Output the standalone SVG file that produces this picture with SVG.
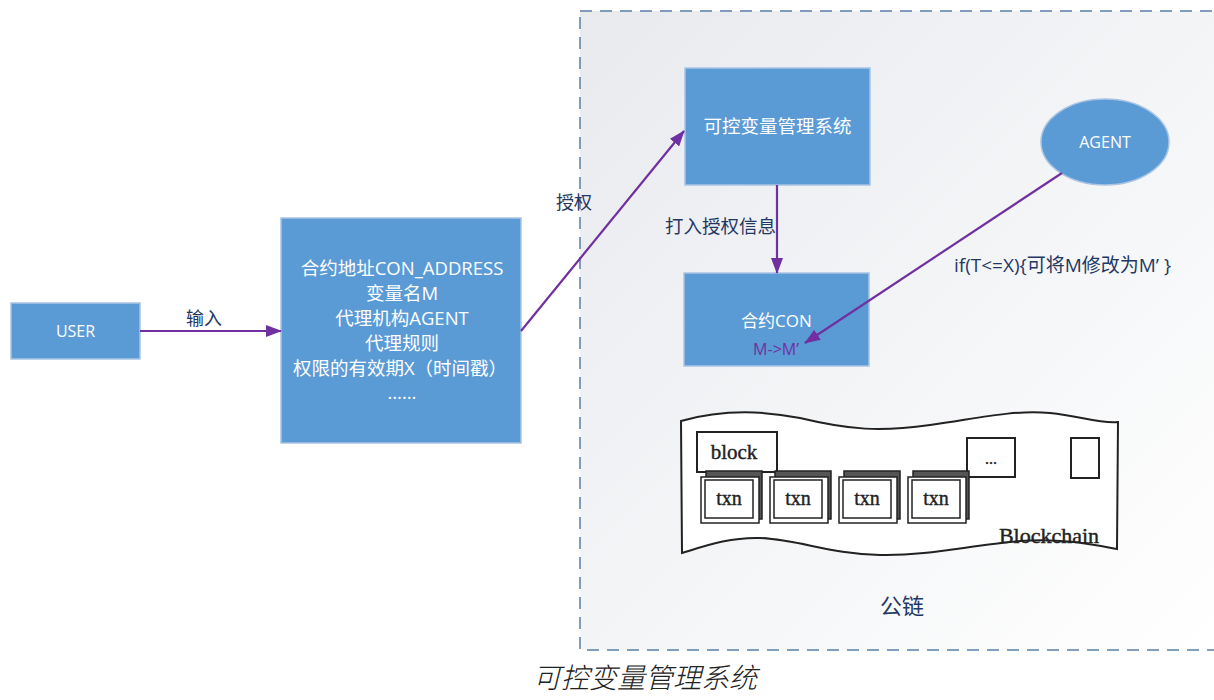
<svg xmlns="http://www.w3.org/2000/svg" width="1214" height="700" viewBox="0 0 1214 700">
  <defs>
    <linearGradient id="panelFill" x1="0" y1="0" x2="1" y2="1">
      <stop offset="0" stop-color="#e8eaee"/>
      <stop offset="1" stop-color="#ffffff"/>
    </linearGradient>
    <marker id="arrow" viewBox="0 0 16 12" refX="15" refY="6" markerWidth="16" markerHeight="12" markerUnits="userSpaceOnUse" orient="auto">
      <path d="M0,0 L16,6 L0,12 Z" fill="#7030a0"/>
    </marker>
  </defs>
  <style>
    .box { fill: #5b9bd5; stroke: #a9c4e3; stroke-width: 1.5; }
    .inner { fill: #ffffff; font-family: "Open Sans", "Noto Sans", "Noto Sans CJK SC", sans-serif; text-anchor: middle; }
    .label { fill: #1f3864; font-family: "Open Sans", "Noto Sans", "Noto Sans CJK SC", sans-serif; }
    .edge { stroke: #7030a0; stroke-width: 2.2; fill: none; marker-end: url(#arrow); }
    .bc { fill: #ffffff; stroke: #222; stroke-width: 2; }
    .bct { fill: #222; stroke: #222; stroke-width: 0.4; font-family: "Liberation Serif", serif; }
  </style>

  <rect width="1214" height="700" fill="#ffffff"/>

  <!-- public chain panel -->
  <g id="public-chain">
    <rect x="580" y="11" width="640" height="639" fill="url(#panelFill)" stroke="#5a7fa8" stroke-width="1.5" stroke-dasharray="12,8"/>
    <text x="902" y="614" class="label" font-size="22" text-anchor="middle">公链</text>
  </g>

  <!-- blockchain illustration -->
  <g id="blockchain">
    <path class="bc" d="M681,421 C720,410 760,410 800,418 C850,430 880,432 930,425 C980,418 1010,410 1050,413 C1080,416 1100,424 1118,422 L1117,549 C1090,544 1060,538 1020,541 C970,545 930,556 880,555 C830,554 800,540 760,538 C730,537 705,546 682,553 Z"/>
    <rect class="bc" x="697" y="432" width="80" height="40"/>
    <text class="bct" x="734" y="459" font-size="21" text-anchor="middle">block</text>
    <rect class="bc" x="967" y="438" width="48" height="39"/>
    <text class="bct" x="991" y="464" font-size="16" text-anchor="middle">...</text>
    <rect class="bc" x="1071" y="438" width="28" height="40"/>
    <g id="txn1">
      <rect x="706" y="471" width="56" height="48" fill="#555" stroke="#222" stroke-width="1.5"/>
      <rect x="701" y="477" width="58" height="46" fill="#fff" stroke="#222" stroke-width="1.5"/>
      <rect x="705" y="480" width="48" height="38" fill="#fff" stroke="#222" stroke-width="1.5"/>
      <text class="bct" x="729" y="505" font-size="20" text-anchor="middle">txn</text>
    </g>
    <g id="txn2">
      <rect x="775" y="471" width="56" height="48" fill="#555" stroke="#222" stroke-width="1.5"/>
      <rect x="770" y="477" width="58" height="46" fill="#fff" stroke="#222" stroke-width="1.5"/>
      <rect x="774" y="480" width="48" height="38" fill="#fff" stroke="#222" stroke-width="1.5"/>
      <text class="bct" x="798" y="505" font-size="20" text-anchor="middle">txn</text>
    </g>
    <g id="txn3">
      <rect x="844" y="471" width="56" height="48" fill="#555" stroke="#222" stroke-width="1.5"/>
      <rect x="839" y="477" width="58" height="46" fill="#fff" stroke="#222" stroke-width="1.5"/>
      <rect x="843" y="480" width="48" height="38" fill="#fff" stroke="#222" stroke-width="1.5"/>
      <text class="bct" x="867" y="505" font-size="20" text-anchor="middle">txn</text>
    </g>
    <g id="txn4">
      <rect x="913" y="471" width="56" height="48" fill="#555" stroke="#222" stroke-width="1.5"/>
      <rect x="908" y="477" width="58" height="46" fill="#fff" stroke="#222" stroke-width="1.5"/>
      <rect x="912" y="480" width="48" height="38" fill="#fff" stroke="#222" stroke-width="1.5"/>
      <text class="bct" x="936" y="505" font-size="20" text-anchor="middle">txn</text>
    </g>
    <text class="bct" x="1049" y="543" font-size="22" text-anchor="middle">Blockchain</text>
  </g>

  <!-- nodes -->
  <g id="user">
    <rect class="box" x="11" y="303" width="129" height="56"/>
    <text class="inner" x="75.5" y="337" font-size="16">USER</text>
  </g>

  <g id="params">
    <rect class="box" x="281" y="218" width="240" height="225"/>
    <g font-size="18.5">
      <text class="inner" x="402" y="275">合约地址CON_ADDRESS</text>
      <text class="inner" x="402" y="300">变量名M</text>
      <text class="inner" x="402" y="325">代理机构AGENT</text>
      <text class="inner" x="402" y="350">代理规则</text>
      <text class="inner" x="400" y="375">权限的有效期X（时间戳）</text>
      <text class="inner" x="402" y="399">……</text>
    </g>
  </g>

  <g id="manager">
    <rect class="box" x="685" y="68" width="185" height="117"/>
    <text class="inner" x="777.5" y="133" font-size="18.5">可控变量管理系统</text>
  </g>

  <g id="contract">
    <rect class="box" x="684" y="273" width="185" height="93"/>
    <text class="inner" x="776.5" y="327" font-size="17">合约CON</text>
    <text class="inner" x="776" y="355" font-size="16" style="fill:#7030a0">M-&gt;M’</text>
  </g>

  <g id="agent">
    <ellipse cx="1105" cy="142" rx="64" ry="43" fill="#5b9bd5" stroke="#a9c4e3" stroke-width="1.5"/>
    <text class="inner" x="1105" y="148" font-size="16">AGENT</text>
  </g>

  <!-- connectors -->
  <g id="connectors">
    <line class="edge" x1="140" y1="331" x2="281" y2="331"/>
    <line class="edge" x1="521" y1="331" x2="684" y2="131"/>
    <line class="edge" x1="777" y1="185" x2="777" y2="273"/>
    <line class="edge" x1="1062" y1="173" x2="805" y2="343"/>
    <text class="label" x="186" y="325" font-size="18">输入</text>
    <text class="label" x="556" y="209" font-size="18">授权</text>
    <text class="label" x="665" y="233" font-size="18.5">打入授权信息</text>
    <text class="label" x="954" y="272" font-size="19">if(T&lt;=X){可将M修改为M’ }</text>
  </g>

  <!-- caption -->
  <text x="645" y="688" text-anchor="middle" font-family="Noto Sans CJK SC, sans-serif" font-size="28" font-style="italic" font-weight="300" fill="#222">可控变量管理系统</text>
</svg>
